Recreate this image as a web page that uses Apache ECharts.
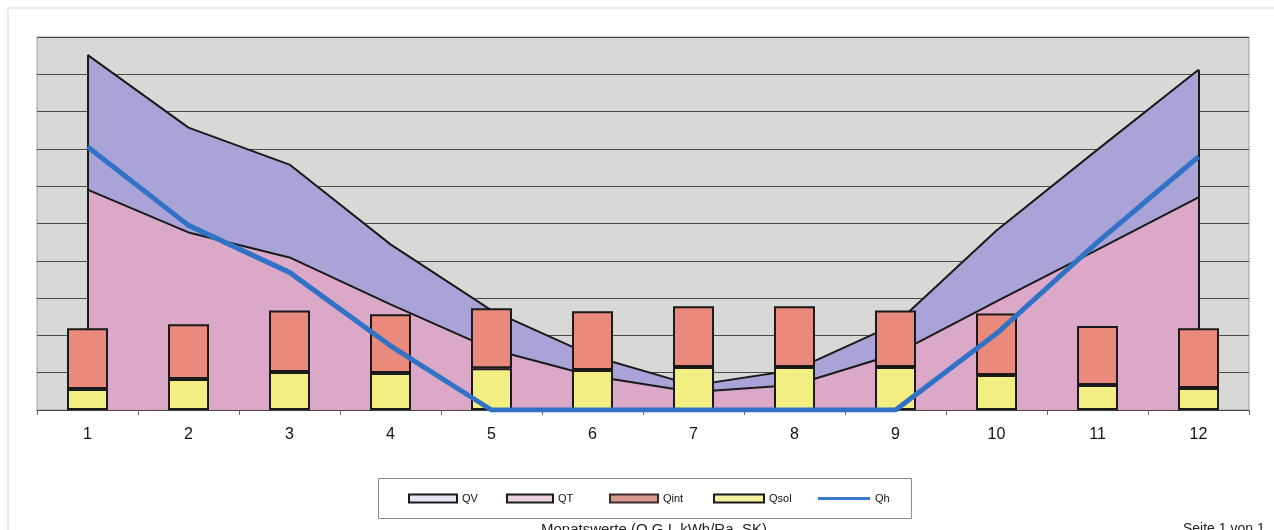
<!DOCTYPE html>
<html>
<head>
<meta charset="utf-8">
<script src="https://cdn.jsdelivr.net/npm/echarts@6/dist/echarts.min.js"></script>
<style>
  html, body { margin: 0; padding: 0; background: #ffffff; }
  #chart { width: 1274px; height: 530px; }
</style>
</head>
<body>
<div id="chart"></div>
<script>
// Monthly energy balance (12 months)
const months = ['1', '2', '3', '4', '5', '6', '7', '8', '9', '10', '11', '12'];
// Ventilation + transmission losses (upper boundary of the lavender band)
const QV = [9.52, 7.57, 6.58, 4.44, 2.67, 1.45, 0.66, 1.07, 2.30, 4.81, 6.98, 9.12];
// Transmission losses (upper boundary of the pink band)
const QT = [5.91, 4.76, 4.09, 2.83, 1.63, 0.91, 0.48, 0.67, 1.50, 2.91, 4.30, 5.70];
// Solar gains (lower bar segment)
const Qsol = [0.56, 0.83, 1.02, 0.99, 1.12, 1.07, 1.15, 1.15, 1.15, 0.94, 0.67, 0.59];
// Internal gains (upper bar segment)
const Qint = [1.63, 1.47, 1.65, 1.58, 1.61, 1.58, 1.63, 1.63, 1.52, 1.65, 1.58, 1.60];
// Heating demand
const Qh = [7.06, 4.95, 3.69, 1.72, 0, 0, 0, 0, 0, 2.05, 4.50, 6.79];

const FONT = '"Liberation Sans", Arial, sans-serif';
const EDGE = '#1a1a1a';

const chart = echarts.init(document.getElementById('chart'), null, { renderer: 'canvas' });

function legendItem(name, left, width, style) {
  return {
    data: [Object.assign({ name: name }, style)],
    left: left,
    top: 493,
    padding: 0,
    itemWidth: width,
    itemHeight: 8,
    itemGap: 0,
    textStyle: { fontFamily: FONT, fontSize: 11, color: '#111', padding: [0, 0, 0, 0] },
    selectedMode: false
  };
}

chart.setOption({
  animation: false,
  backgroundColor: '#ffffff',
  grid: {
    left: 37, right: 25, top: 37, bottom: 120,
    show: true,
    backgroundColor: '#d8d9d6',
    borderColor: '#9c9c9c',
    borderWidth: 1
  },
  xAxis: {
    type: 'category',
    data: months,
    boundaryGap: true,
    axisLine: { show: true, lineStyle: { color: '#444', width: 1 } },
    axisTick: { show: true, alignWithLabel: false, length: 5, lineStyle: { color: '#666' } },
    axisLabel: { fontFamily: FONT, fontSize: 16, color: '#111', margin: 17 }
  },
  yAxis: {
    type: 'value',
    min: 0, max: 10, interval: 1,
    axisLine: { show: false },
    axisTick: { show: false },
    axisLabel: { show: false },
    splitLine: { show: true, lineStyle: { color: '#4a4a4a', width: 1 } }
  },
  legend: [
    legendItem('QV', 408, 48, { icon: 'rect', itemStyle: { color: '#e6e3f2', borderColor: EDGE, borderWidth: 2 } }),
    legendItem('QT', 506, 46, { icon: 'rect', itemStyle: { color: '#e9cfe0', borderColor: EDGE, borderWidth: 2 } }),
    legendItem('Qint', 609, 48, { icon: 'rect', itemStyle: { color: '#d99a8e', borderColor: '#3a2a28', borderWidth: 2 } }),
    legendItem('Qsol', 713, 50, { icon: 'rect', itemStyle: { color: '#f4f0a0', borderColor: EDGE, borderWidth: 2 } }),
    legendItem('Qh', 818, 52, { icon: 'path://M0,0 L52,0 L52,3 L0,3 Z', itemStyle: { color: '#3a78c9', borderWidth: 0 } })
  ],
  graphic: [
    // page frame
    { type: 'line', shape: { x1: 8, y1: 8, x2: 1274, y2: 8 }, style: { stroke: '#d4d4d4', lineWidth: 1 }, silent: true },
    { type: 'line', shape: { x1: 8, y1: 8, x2: 8, y2: 530 }, style: { stroke: '#d4d4d4', lineWidth: 1 }, silent: true },
    // legend box
    { type: 'rect', shape: { x: 378.5, y: 478.5, width: 533, height: 40 }, style: { fill: 'none', stroke: '#8a8a8a', lineWidth: 1 }, silent: true },
    // footer texts
    { type: 'text', left: 541, top: 522, style: { text: 'Monatswerte (Q,G,I, kWh/Ra, SK)', font: '15px ' + FONT, fill: '#222' }, silent: true },
    { type: 'text', left: 1183, top: 522, style: { text: 'Seite 1 von 1', font: '14px ' + FONT, fill: '#222' }, silent: true }
  ],
  series: [
    {
      name: 'QV',
      type: 'line',
      data: QV,
      symbol: 'none',
      z: 1,
      lineStyle: { color: EDGE, width: 2 },
      itemStyle: { color: EDGE },
      areaStyle: { color: '#aaa3d8', opacity: 1 },
      // closing edges of the loss bands at the first and last month
      markLine: {
        silent: true,
        z: 4,
        symbol: 'none',
        label: { show: false },
        lineStyle: { color: EDGE, width: 2, type: 'solid' },
        data: [
          [{ coord: [0, 0] }, { coord: [0, QV[0]] }],
          [{ coord: [11, 0] }, { coord: [11, QV[11]] }]
        ]
      }
    },
    {
      name: 'QT',
      type: 'line',
      data: QT,
      symbol: 'none',
      z: 2,
      lineStyle: { color: EDGE, width: 2 },
      itemStyle: { color: EDGE },
      areaStyle: { color: '#dba8c7', opacity: 1 }
    },
    {
      name: 'Qsol',
      type: 'bar',
      stack: 'gains',
      data: Qsol,
      barWidth: 41,
      z: 6,
      itemStyle: { color: '#f3ee82', borderColor: EDGE, borderWidth: 2 }
    },
    {
      name: 'Qint',
      type: 'bar',
      stack: 'gains',
      data: Qint,
      barWidth: 41,
      z: 6,
      itemStyle: { color: '#ea8a7c', borderColor: EDGE, borderWidth: 2 }
    },
    {
      name: 'Qh',
      type: 'line',
      data: Qh,
      symbol: 'none',
      z: 8,
      lineStyle: { color: '#2f72c6', width: 5 },
      itemStyle: { color: '#2f72c6' }
    }
  ]
});
</script>
</body>
</html>
